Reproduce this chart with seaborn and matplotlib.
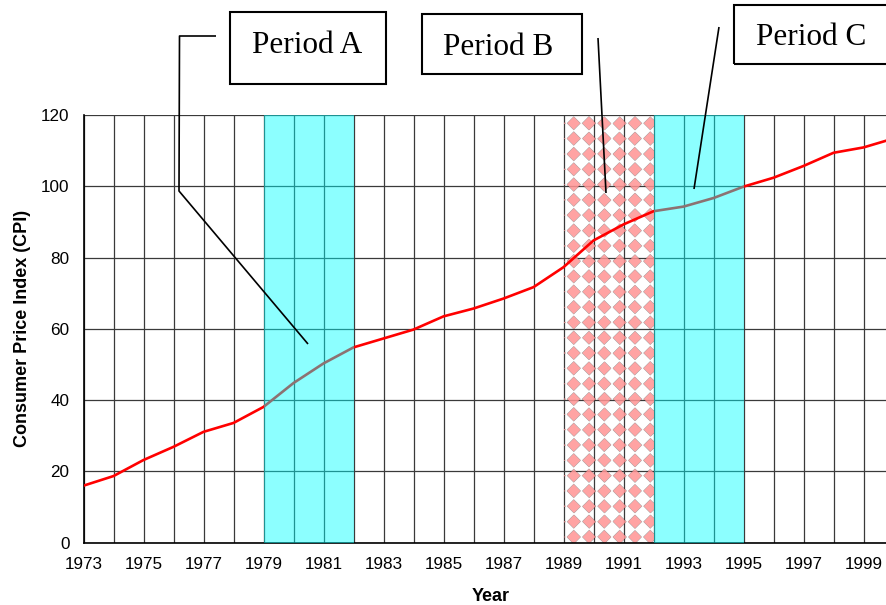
import numpy as np
import pandas as pd
import matplotlib
matplotlib.use("Agg")
import matplotlib.pyplot as plt
import seaborn as sns
from matplotlib.patches import Rectangle

# ---- data ----
years = list(range(1973, 2001))
cpi = [16.0, 18.7, 23.2, 26.9, 31.1, 33.6, 38.1, 44.8, 50.3, 54.8,
       57.3, 59.8, 63.5, 65.7, 68.5, 71.7, 77.3, 84.8, 89.3, 93.0,
       94.3, 96.7, 99.9, 102.4, 105.7, 109.4, 110.9, 113.4]
period_names = ["Period A", "Period B", "Period C"]
period_start = [1979, 1989, 1992]
period_end = [1982, 1992, 1995]
x_label = "Year"
y_label = "Consumer Price Index (CPI)"

sns.set_style("white")
plt.rcParams['font.family'] = ['Liberation Sans', 'DejaVu Sans']

W, H = 886, 605
fig = plt.figure(figsize=(W / 100, H / 100), dpi=100)
ax_l, ax_r, ax_t, ax_b = 83.5, 886, 115, 542.7
ax = fig.add_axes([ax_l / W, 1 - ax_b / H, (ax_r - ax_l) / W, (ax_b - ax_t) / H])
XMIN, XMAX, YMIN, YMAX = 1973, 1999.75, 0, 120
ppx = (ax_r - ax_l) / (XMAX - XMIN)   # pixels per year
ppy = (ax_b - ax_t) / (YMAX - YMIN)   # pixels per CPI unit

df = pd.DataFrame({"Year": years, "CPI": cpi})
sns.lineplot(data=df, x="Year", y="CPI", ax=ax, color="#ff0000", lw=1.9, zorder=3)

# shaded periods A and C (cyan)
for i in (0, 2):
    ax.axvspan(period_start[i], period_end[i], facecolor="#00ffff", alpha=0.45,
               lw=0, zorder=4)

# period B: pink diamond fill pattern (texture in screen pixels)
sx0 = ax_l + (period_start[1] - XMIN) * ppx
sx1 = ax_l + (period_end[1] - XMIN) * ppx
nx = int(round((sx1 - sx0) * 2))
ny = int(round((ax_b - ax_t) * 2))
pxs = sx0 + (np.arange(nx) + 0.5) / 2
pys = ax_t + (np.arange(ny) + 0.5) / 2
PX, PY = np.meshgrid(pxs, pys)
step = 15.3
u = ((PX - (sx0 + 9.8) + step / 2) % step) - step / 2
v = ((PY - (ax_t + 8.3) + step / 2) % step) - step / 2
mask = (np.abs(u) + np.abs(v)) < 6.9
img = np.zeros((ny, nx, 4))
img[mask] = (1.0, 0.58, 0.58, 0.85)
ax.imshow(img, extent=(period_start[1], period_end[1], YMIN, YMAX), origin="upper",
          aspect="auto", interpolation="antialiased", zorder=2)

ax.set_xlim(XMIN, XMAX)
ax.set_ylim(YMIN, YMAX)
xt = list(range(1973, 2000))
ax.set_xticks(xt)
ax.set_xticklabels([str(y) if (y - 1973) % 2 == 0 else "" for y in xt])
ax.set_yticks(range(0, 121, 20))
ax.grid(True, color="#3a3a3a", lw=0.9)
ax.set_axisbelow(True)
for s in ["top", "right"]:
    ax.spines[s].set_visible(False)
for s in ["left", "bottom"]:
    ax.spines[s].set_color("black")
    ax.spines[s].set_linewidth(1.2)
ax.tick_params(axis="both", direction="out", length=4, width=0.9, color="black",
               labelsize=12.3, pad=6, labelcolor="black")

ax.set_xlabel(x_label, fontsize=13, fontweight="bold", va="top", color="black")
ax.xaxis.set_label_coords((491 - ax_l) / (ax_r - ax_l), -(588 - ax_b) / (ax_b - ax_t))
ax.set_ylabel(y_label, fontsize=13, fontweight="bold", color="black")
ax.yaxis.set_label_coords((31 - ax_l) / (ax_r - ax_l), 0.5)

# callout lines (pixel positions -> data coordinates)
def px2d(px, py):
    return XMIN + (px - ax_l) / ppx, (ax_b - py) / ppy

callouts = [
    [(216, 36), (179.5, 36), (179, 191), (308, 344)],
    [(598, 38), (606, 193)],
    [(719, 27), (694, 189)],
]
for pts in callouts:
    d = [px2d(*p) for p in pts]
    ax.plot([p[0] for p in d], [p[1] for p in d], color="black", lw=1.2,
            clip_on=False, zorder=6, solid_capstyle="butt")

# label boxes (pixel boxes)
boxes = [(230, 386, 12, 83.5), (422, 582, 14.5, 74), (734, 930, 4.5, 63.5)]
text_pos = [(307.3, 53.3), (498, 55), (811, 45)]
for (x0, x1, y0, y1), (tx, ty), name in zip(boxes, text_pos, period_names):
    fig.add_artist(Rectangle((x0 / W, 1 - y1 / H), (x1 - x0) / W, (y1 - y0) / H,
                             transform=fig.transFigure, fill=False,
                             edgecolor="black", lw=1.5))
    fig.text(tx / W, 1 - ty / H, name, family=["Liberation Serif", "DejaVu Serif"],
             fontsize=22.5, ha="center", va="baseline", color="black")

fig.savefig("out.png", dpi=100)
